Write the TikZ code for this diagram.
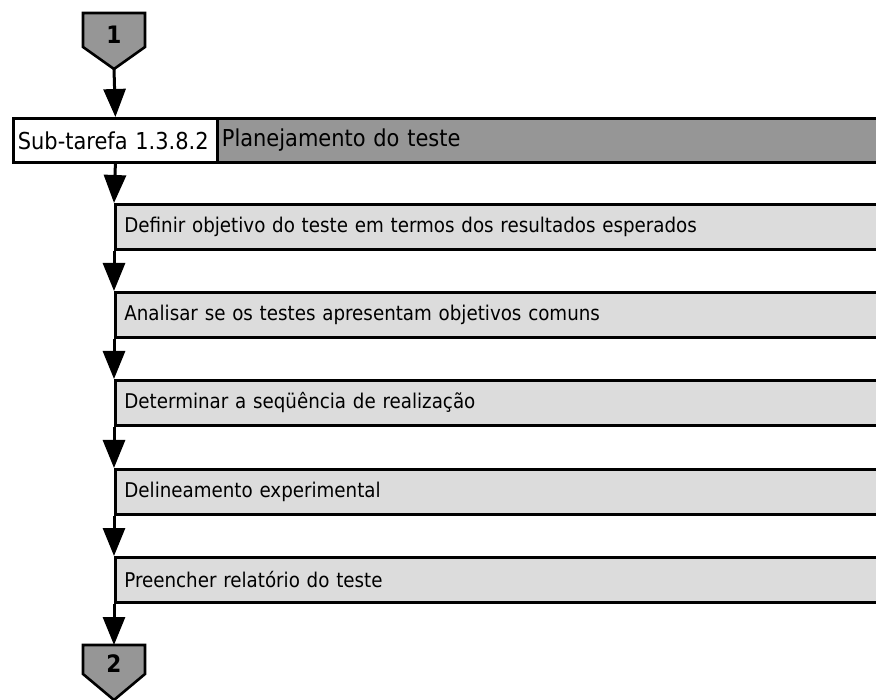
\documentclass[tikz,border=0pt]{standalone}
\usepackage{fontspec}
\setmainfont{DejaVu Sans Condensed}
\usetikzlibrary{arrows.meta}
\definecolor{midgray}{RGB}{150,150,150}
\definecolor{lightgray}{RGB}{220,220,220}
\begin{document}
\begin{tikzpicture}[x=1pt,y=-1pt,
  font=\fontsize{20.3}{24}\selectfont,
  flow/.style={line width=3pt,-{Triangle[length=28pt,width=22pt]}},
  pent/.style={draw=black,line width=2.6pt,fill=midgray,line join=miter},
  stepbox/.style={draw=black,line width=2.8pt,fill=lightgray,rectangle,anchor=north west,
    minimum height=45pt,text width=770pt,inner xsep=9pt,align=left},
  hdr/.style={draw=black,line width=2.8pt,rectangle,anchor=north west,minimum height=44pt,
    inner xsep=4.5pt,align=left,font=\fontsize{23.3}{26}\selectfont},
  numtext/.style={font=\fontsize{24}{26}\selectfont\bfseries},
]
\useasboundingbox (0,0) rectangle (876,700);
% top connector
\draw[pent] (83,13) -- (145,13) -- (145,47) -- (114,69) -- (83,47) -- cycle;
\node[numtext] (p1) at (114,35) {1};
\coordinate (p1tip) at (114,69);
% header
\node[hdr,fill=white,minimum width=204pt,text width=195pt] (hl) at (12,117) {Sub-tarefa 1.3.8.2};
\node[hdr,fill=midgray,minimum width=680pt,text width=671pt] (hr) at (216,117) {Planejamento do teste};
% steps
\node[stepbox] (s1) at (114,203) {Definir objetivo do teste em termos dos resultados esperados};
\node[stepbox] (s2) at (114,291) {Analisar se os testes apresentam objetivos comuns};
\node[stepbox] (s3) at (114,379) {Determinar a seqüência de realização};
\node[stepbox] (s4) at (114,468) {Delineamento experimental};
\node[stepbox] (s5) at (114,556) {Preencher relatório do teste};
% bottom connector
\draw[pent] (83,645) -- (145,645) -- (145,674) -- (114,700) -- (83,674) -- cycle;
\node[numtext] (p2) at (114,664) {2};
\coordinate (p2top) at (114,645);
% flow
\draw[flow] (p1tip) -- (hl.north);
\draw[flow] (hl.south) -- (s1.north west);
\draw[flow] (s1.south west) -- (s2.north west);
\draw[flow] (s2.south west) -- (s3.north west);
\draw[flow] (s3.south west) -- (s4.north west);
\draw[flow] (s4.south west) -- (s5.north west);
\draw[flow] (s5.south west) -- (p2top);
\end{tikzpicture}
\end{document}
